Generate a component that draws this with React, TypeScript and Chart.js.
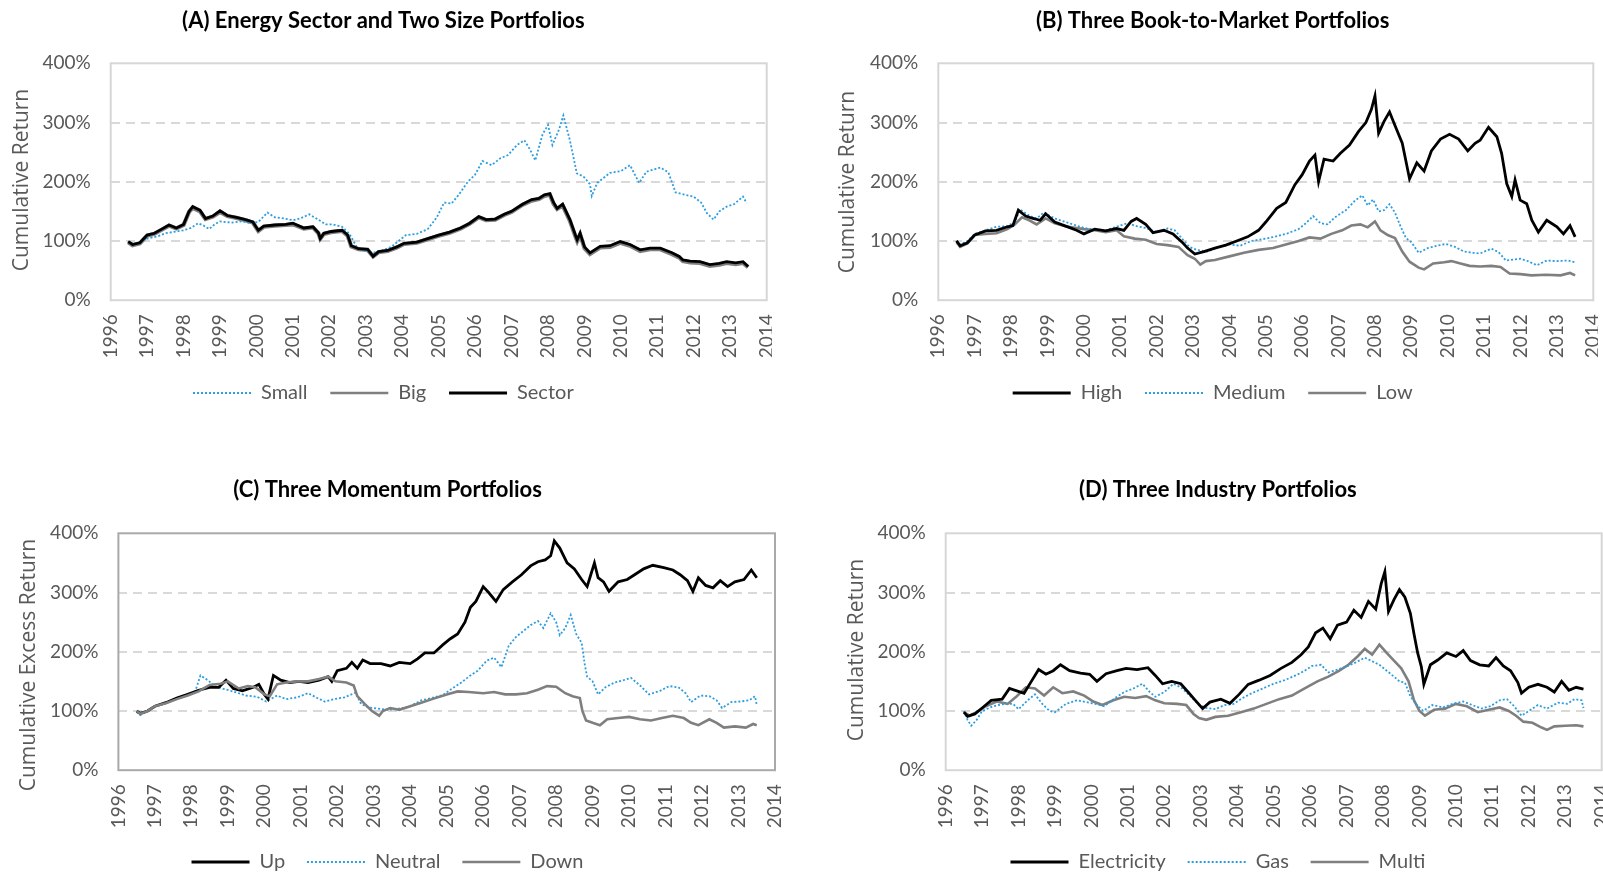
import React, { useEffect, useRef } from 'react';
import { Chart, registerables } from 'chart.js';

Chart.register(...registerables);

type Pt = [number, number];

// ---------- axis values ----------
const YEAR_MIN = 1996;
const YEAR_MAX = 2014;
const PCT_MIN = 0;
const PCT_MAX = 400;
const PCT_STEP = 100;

// ---------- (A) Energy Sector and Two Size Portfolios ----------
const A_SMALL: Pt[] = [
  [1996.48, 99], [1996.6, 95], [1996.8, 98], [1997.0, 104], [1997.3, 108], [1997.5, 113], [1997.8, 116],
  [1998.0, 118], [1998.2, 122], [1998.4, 130], [1998.55, 126], [1998.7, 120], [1998.85, 128], [1999.0, 133],
  [1999.3, 131], [1999.6, 133], [1999.85, 130], [2000.05, 132], [2000.3, 148], [2000.5, 140], [2000.75, 138],
  [2001.0, 135], [2001.2, 138], [2001.45, 145], [2001.7, 136], [2001.9, 128], [2002.1, 128], [2002.35, 124],
  [2002.55, 112], [2002.75, 90], [2002.95, 84], [2003.2, 80], [2003.45, 84], [2003.7, 90], [2003.9, 100],
  [2004.1, 110], [2004.4, 112], [2004.7, 120], [2004.95, 140], [2005.15, 165], [2005.35, 163], [2005.55, 178],
  [2005.8, 200], [2006.0, 212], [2006.2, 235], [2006.45, 228], [2006.7, 240], [2006.9, 245], [2007.15, 262],
  [2007.35, 270], [2007.5, 255], [2007.65, 236], [2007.85, 280], [2008.0, 296], [2008.12, 262], [2008.3, 288],
  [2008.42, 312], [2008.6, 270], [2008.79, 214], [2008.97, 209], [2009.15, 196], [2009.2, 176], [2009.35, 198],
  [2009.7, 215], [2010.0, 218], [2010.25, 228], [2010.5, 198], [2010.7, 217], [2011.08, 224], [2011.3, 216],
  [2011.5, 182], [2011.75, 178], [2011.99, 175], [2012.2, 165], [2012.36, 147], [2012.54, 136], [2012.7, 150],
  [2012.9, 158], [2013.1, 162], [2013.35, 175], [2013.45, 164],
];
const A_BIG: Pt[] = [
  [1996.48, 98], [1996.6, 93], [1996.8, 96], [1997.0, 109], [1997.2, 112], [1997.4, 119], [1997.6, 126],
  [1997.8, 121], [1998.0, 127], [1998.15, 149], [1998.25, 156], [1998.45, 150], [1998.6, 137], [1998.8, 141],
  [1999.0, 149], [1999.2, 142], [1999.45, 139], [1999.7, 135], [1999.9, 131], [2000.05, 117], [2000.2, 124],
  [2000.5, 126], [2000.8, 127], [2001.0, 128], [2001.3, 121], [2001.55, 123], [2001.7, 113], [2001.75, 104],
  [2001.85, 112], [2002.05, 115], [2002.35, 117], [2002.5, 109], [2002.6, 91], [2002.8, 86], [2003.05, 85],
  [2003.2, 74], [2003.35, 81], [2003.6, 83], [2003.85, 89], [2004.05, 95], [2004.4, 97], [2004.7, 103],
  [2005.0, 109], [2005.3, 114], [2005.6, 121], [2005.85, 129], [2006.1, 140], [2006.3, 135], [2006.55, 136],
  [2006.8, 144], [2007.0, 149], [2007.3, 161], [2007.55, 168], [2007.75, 171], [2007.9, 176], [2008.05, 178],
  [2008.15, 163], [2008.25, 154], [2008.4, 160], [2008.6, 134], [2008.75, 108], [2008.8, 100], [2008.88, 111],
  [2009.0, 88], [2009.15, 78], [2009.43, 89], [2009.7, 90], [2009.98, 97], [2010.25, 92], [2010.53, 83],
  [2010.8, 86], [2011.08, 86], [2011.4, 78], [2011.6, 72], [2011.7, 66], [2011.9, 64], [2012.17, 63],
  [2012.44, 58], [2012.7, 60], [2012.9, 63], [2013.15, 61], [2013.35, 63], [2013.49, 56],
];
const A_SECTOR: Pt[] = [
  [1996.48, 99], [1996.6, 94], [1996.8, 97], [1997.0, 110], [1997.2, 113], [1997.4, 120], [1997.6, 127],
  [1997.8, 122], [1998.0, 128], [1998.15, 150], [1998.25, 158], [1998.45, 152], [1998.6, 138], [1998.8, 142],
  [1999.0, 151], [1999.2, 143], [1999.45, 140], [1999.7, 136], [1999.9, 132], [2000.05, 118], [2000.2, 125],
  [2000.5, 127], [2000.8, 128], [2001.0, 130], [2001.3, 122], [2001.55, 124], [2001.7, 114], [2001.75, 104],
  [2001.85, 113], [2002.05, 116], [2002.35, 118], [2002.5, 110], [2002.6, 92], [2002.8, 87], [2003.05, 86],
  [2003.2, 74], [2003.35, 82], [2003.6, 84], [2003.85, 90], [2004.05, 96], [2004.4, 98], [2004.7, 104],
  [2005.0, 110], [2005.3, 115], [2005.6, 122], [2005.85, 130], [2006.1, 141], [2006.3, 136], [2006.55, 137],
  [2006.8, 145], [2007.0, 150], [2007.3, 162], [2007.55, 170], [2007.75, 172], [2007.9, 178], [2008.05, 180],
  [2008.15, 165], [2008.25, 155], [2008.4, 162], [2008.6, 136], [2008.75, 110], [2008.8, 102], [2008.88, 113],
  [2009.0, 90], [2009.15, 80], [2009.43, 91], [2009.7, 92], [2009.98, 99], [2010.25, 94], [2010.53, 85],
  [2010.8, 88], [2011.08, 88], [2011.4, 80], [2011.6, 74], [2011.7, 68], [2011.9, 66], [2012.17, 65],
  [2012.44, 60], [2012.7, 62], [2012.9, 65], [2013.15, 63], [2013.35, 65], [2013.49, 57],
];

// ---------- (B) Three Book-to-Market Portfolios ----------
const B_HIGH: Pt[] = [
  [1996.5, 100], [1996.6, 92], [1996.8, 97], [1997.0, 110], [1997.3, 117], [1997.6, 118], [1997.9, 124],
  [1998.05, 126], [1998.2, 152], [1998.4, 142], [1998.6, 138], [1998.8, 135], [1998.95, 146], [1999.2, 132],
  [1999.5, 125], [1999.8, 118], [2000.0, 112], [2000.3, 120], [2000.6, 117], [2000.9, 121], [2001.1, 118],
  [2001.3, 133], [2001.45, 138], [2001.7, 128], [2001.9, 114], [2002.2, 118], [2002.45, 112], [2002.7, 98],
  [2002.85, 88], [2003.05, 78], [2003.3, 82], [2003.6, 88], [2003.9, 93], [2004.2, 100], [2004.5, 107],
  [2004.8, 118], [2005.0, 132], [2005.3, 155], [2005.55, 165], [2005.8, 195], [2006.0, 212], [2006.2, 235],
  [2006.35, 245], [2006.45, 200], [2006.6, 238], [2006.85, 235], [2007.05, 248], [2007.3, 262], [2007.55, 285],
  [2007.75, 300], [2007.9, 322], [2008.0, 345], [2008.1, 282], [2008.25, 302], [2008.4, 318], [2008.55, 295],
  [2008.75, 265], [2008.95, 205], [2009.15, 232], [2009.35, 218], [2009.55, 252], [2009.8, 272], [2010.05, 280],
  [2010.3, 272], [2010.55, 252], [2010.75, 265], [2010.89, 270], [2011.12, 292], [2011.35, 276], [2011.48, 248],
  [2011.62, 197], [2011.76, 175], [2011.85, 203], [2011.99, 169], [2012.17, 163], [2012.31, 135], [2012.49, 115],
  [2012.72, 135], [2013.0, 124], [2013.18, 112], [2013.36, 126], [2013.5, 107],
];
const B_MEDIUM: Pt[] = [
  [1996.5, 100], [1996.6, 94], [1996.8, 100], [1997.0, 112], [1997.3, 118], [1997.6, 124], [1997.9, 125],
  [1998.1, 132], [1998.25, 153], [1998.5, 143], [1998.7, 138], [1998.9, 148], [1999.2, 138], [1999.5, 132],
  [1999.8, 126], [2000.0, 122], [2000.3, 119], [2000.6, 118], [2000.9, 124], [2001.2, 130], [2001.45, 125],
  [2001.7, 122], [2002.0, 115], [2002.3, 121], [2002.5, 118], [2002.7, 104], [2002.9, 90], [2003.1, 85],
  [2003.4, 82], [2003.7, 90], [2004.0, 94], [2004.3, 92], [2004.6, 100], [2005.0, 104], [2005.3, 108],
  [2005.6, 113], [2005.9, 120], [2006.1, 130], [2006.3, 142], [2006.5, 130], [2006.7, 128], [2006.9, 140],
  [2007.2, 152], [2007.45, 168], [2007.65, 177], [2007.8, 160], [2007.95, 170], [2008.1, 150], [2008.25, 152],
  [2008.4, 162], [2008.55, 148], [2008.7, 125], [2008.85, 105], [2009.0, 98], [2009.2, 80], [2009.45, 88],
  [2009.7, 92], [2009.95, 95], [2010.2, 90], [2010.45, 82], [2010.7, 80], [2010.89, 79], [2011.2, 87],
  [2011.4, 81], [2011.6, 67], [2011.99, 70], [2012.2, 66], [2012.45, 59], [2012.72, 67], [2013.0, 66],
  [2013.3, 67], [2013.5, 64],
];
const B_LOW: Pt[] = [
  [1996.5, 98], [1996.6, 90], [1996.8, 96], [1997.0, 110], [1997.3, 112], [1997.6, 113], [1997.9, 120],
  [1998.1, 128], [1998.3, 140], [1998.5, 135], [1998.7, 128], [1998.95, 138], [1999.2, 130], [1999.5, 125],
  [1999.8, 122], [2000.0, 120], [2000.3, 118], [2000.6, 115], [2000.9, 118], [2001.1, 108], [2001.4, 104],
  [2001.7, 102], [2002.0, 95], [2002.3, 93], [2002.6, 90], [2002.85, 76], [2003.05, 70], [2003.2, 60],
  [2003.35, 66], [2003.6, 68], [2004.0, 74], [2004.4, 80], [2004.8, 85], [2005.2, 88], [2005.6, 95],
  [2005.9, 100], [2006.2, 106], [2006.5, 104], [2006.8, 112], [2007.1, 118], [2007.35, 126], [2007.6, 128],
  [2007.8, 123], [2008.0, 133], [2008.15, 118], [2008.35, 110], [2008.55, 105], [2008.75, 82], [2008.95, 65],
  [2009.2, 55], [2009.35, 52], [2009.6, 62], [2009.9, 64], [2010.1, 66], [2010.35, 62], [2010.6, 58],
  [2010.89, 57], [2011.2, 58], [2011.45, 56], [2011.7, 45], [2012.0, 44], [2012.3, 42], [2012.7, 43],
  [2013.1, 42], [2013.36, 46], [2013.5, 42],
];

// ---------- (C) Three Momentum Portfolios ----------
const C_UP: Pt[] = [
  [1996.5, 100], [1996.6, 96], [1996.8, 100], [1997.0, 108], [1997.3, 114], [1997.6, 122], [1997.9, 128],
  [1998.2, 135], [1998.5, 140], [1998.75, 140], [1998.95, 152], [1999.15, 138], [1999.4, 134], [1999.7, 140],
  [1999.85, 145], [2000.0, 128], [2000.1, 120], [2000.25, 160], [2000.45, 152], [2000.7, 148], [2000.95, 150],
  [2001.2, 148], [2001.5, 152], [2001.75, 158], [2001.85, 150], [2002.0, 168], [2002.25, 172], [2002.4, 182],
  [2002.55, 172], [2002.7, 186], [2002.9, 180], [2003.2, 180], [2003.45, 176], [2003.7, 182], [2004.0, 180],
  [2004.2, 188], [2004.4, 198], [2004.65, 198], [2004.9, 212], [2005.1, 222], [2005.3, 230], [2005.5, 250],
  [2005.65, 275], [2005.8, 285], [2006.0, 310], [2006.15, 300], [2006.35, 285], [2006.55, 305], [2006.8, 318],
  [2007.05, 330], [2007.3, 345], [2007.5, 352], [2007.7, 355], [2007.85, 362], [2007.95, 387], [2008.1, 375],
  [2008.3, 350], [2008.5, 340], [2008.7, 322], [2008.85, 310], [2008.95, 330], [2009.05, 350], [2009.15, 325],
  [2009.3, 318], [2009.45, 302], [2009.7, 318], [2009.95, 322], [2010.15, 330], [2010.4, 340], [2010.65, 346],
  [2010.95, 342], [2011.2, 338], [2011.4, 330], [2011.6, 320], [2011.75, 302], [2011.9, 325], [2012.1, 312],
  [2012.3, 308], [2012.5, 320], [2012.7, 310], [2012.9, 318], [2013.15, 322], [2013.35, 338], [2013.5, 325],
];
const C_NEUTRAL: Pt[] = [
  [1996.5, 98], [1996.6, 93], [1996.8, 100], [1997.0, 108], [1997.3, 114], [1997.6, 120], [1997.9, 128],
  [1998.1, 132], [1998.25, 160], [1998.45, 152], [1998.65, 142], [1998.9, 137], [1999.2, 132], [1999.5, 126],
  [1999.8, 124], [2000.05, 116], [2000.35, 126], [2000.6, 120], [2000.9, 123], [2001.2, 130], [2001.45, 122],
  [2001.65, 116], [2001.9, 120], [2002.2, 123], [2002.5, 131], [2002.65, 112], [2002.85, 106], [2003.1, 104],
  [2003.4, 102], [2003.7, 104], [2004.0, 108], [2004.3, 118], [2004.6, 122], [2004.9, 127], [2005.15, 138],
  [2005.4, 148], [2005.65, 160], [2005.85, 168], [2006.1, 185], [2006.3, 190], [2006.5, 174], [2006.7, 210],
  [2006.9, 225], [2007.1, 235], [2007.3, 245], [2007.5, 252], [2007.65, 240], [2007.85, 265], [2008.0, 250],
  [2008.1, 228], [2008.25, 240], [2008.4, 262], [2008.55, 230], [2008.7, 215], [2008.78, 180], [2008.85, 158],
  [2009.0, 150], [2009.15, 128], [2009.35, 140], [2009.6, 148], [2009.85, 152], [2010.05, 156], [2010.3, 143],
  [2010.55, 128], [2010.85, 134], [2011.1, 142], [2011.35, 140], [2011.55, 130], [2011.7, 115], [2011.95, 126],
  [2012.2, 125], [2012.4, 118], [2012.55, 105], [2012.8, 115], [2013.05, 116], [2013.3, 118], [2013.45, 125],
  [2013.5, 110],
];
const C_DOWN: Pt[] = [
  [1996.5, 100], [1996.6, 95], [1996.8, 100], [1997.0, 108], [1997.3, 113], [1997.6, 120], [1997.9, 126],
  [1998.2, 133], [1998.5, 144], [1998.8, 146], [1999.0, 150], [1999.3, 138], [1999.55, 142], [1999.75, 140],
  [2000.0, 128], [2000.15, 125], [2000.35, 145], [2000.6, 148], [2000.9, 150], [2001.2, 150], [2001.5, 154],
  [2001.75, 158], [2001.95, 150], [2002.25, 148], [2002.45, 143], [2002.55, 125], [2002.75, 112], [2002.95, 100],
  [2003.15, 92], [2003.25, 100], [2003.45, 105], [2003.7, 102], [2004.0, 108], [2004.3, 114], [2004.6, 120],
  [2005.0, 128], [2005.3, 133], [2005.6, 132], [2006.0, 130], [2006.3, 132], [2006.6, 128], [2006.9, 128],
  [2007.2, 130], [2007.5, 136], [2007.75, 142], [2008.0, 141], [2008.25, 130], [2008.45, 125], [2008.65, 122],
  [2008.72, 100], [2008.82, 84], [2009.0, 80], [2009.2, 76], [2009.4, 86], [2009.7, 88], [2010.0, 90],
  [2010.3, 86], [2010.6, 84], [2010.9, 88], [2011.2, 92], [2011.5, 88], [2011.7, 80], [2011.9, 76],
  [2012.2, 86], [2012.4, 80], [2012.6, 72], [2012.9, 74], [2013.2, 72], [2013.4, 78], [2013.5, 76],
];

// ---------- (D) Three Industry Portfolios ----------
const D_ELECTRICITY: Pt[] = [
  [1996.5, 98], [1996.6, 91], [1996.8, 95], [1997.0, 105], [1997.25, 118], [1997.55, 120], [1997.75, 138],
  [1997.95, 134], [1998.15, 130], [1998.35, 150], [1998.55, 170], [1998.75, 162], [1998.95, 168], [1999.15, 178],
  [1999.4, 168], [1999.7, 164], [1999.95, 162], [2000.15, 150], [2000.4, 163], [2000.7, 168], [2000.95, 172],
  [2001.25, 170], [2001.55, 173], [2001.75, 160], [2001.95, 146], [2002.2, 150], [2002.45, 146], [2002.65, 132],
  [2002.85, 118], [2003.05, 104], [2003.25, 115], [2003.55, 120], [2003.8, 113], [2004.05, 128], [2004.3, 145],
  [2004.6, 152], [2004.9, 160], [2005.2, 172], [2005.5, 182], [2005.75, 195], [2005.95, 208], [2006.15, 232],
  [2006.35, 240], [2006.55, 222], [2006.75, 245], [2007.0, 250], [2007.2, 270], [2007.4, 258], [2007.6, 285],
  [2007.8, 272], [2007.95, 315], [2008.05, 335], [2008.15, 268], [2008.3, 288], [2008.45, 305], [2008.6, 292],
  [2008.75, 265], [2008.85, 230], [2008.95, 198], [2009.05, 175], [2009.12, 145], [2009.3, 178], [2009.5, 186],
  [2009.75, 198], [2010.0, 192], [2010.2, 202], [2010.4, 185], [2010.65, 178], [2010.9, 176], [2011.1, 190],
  [2011.3, 176], [2011.5, 168], [2011.7, 148], [2011.8, 130], [2012.0, 140], [2012.25, 145], [2012.5, 140],
  [2012.7, 132], [2012.9, 150], [2013.1, 135], [2013.3, 140], [2013.5, 137],
];
const D_GAS: Pt[] = [
  [1996.5, 100], [1996.6, 85], [1996.7, 75], [1996.85, 85], [1997.0, 100], [1997.3, 108], [1997.6, 112],
  [1997.85, 112], [1998.0, 103], [1998.25, 118], [1998.45, 128], [1998.65, 112], [1998.85, 100], [1999.0, 98],
  [1999.3, 112], [1999.6, 118], [1999.85, 115], [2000.1, 112], [2000.35, 108], [2000.65, 122], [2000.9, 132],
  [2001.15, 138], [2001.4, 146], [2001.6, 132], [2001.75, 124], [2002.0, 132], [2002.25, 146], [2002.45, 140],
  [2002.7, 126], [2002.95, 110], [2003.15, 105], [2003.4, 103], [2003.65, 110], [2003.9, 112], [2004.15, 122],
  [2004.4, 130], [2004.7, 138], [2005.0, 146], [2005.3, 152], [2005.6, 160], [2005.85, 168], [2006.05, 176],
  [2006.3, 178], [2006.5, 165], [2006.75, 170], [2007.0, 175], [2007.25, 182], [2007.5, 190], [2007.7, 184],
  [2007.9, 178], [2008.1, 168], [2008.3, 158], [2008.45, 150], [2008.6, 148], [2008.75, 125], [2008.9, 112],
  [2009.1, 100], [2009.35, 110], [2009.65, 106], [2009.9, 112], [2010.2, 116], [2010.45, 110], [2010.7, 104],
  [2010.95, 108], [2011.2, 118], [2011.4, 120], [2011.6, 108], [2011.8, 92], [2012.0, 100], [2012.25, 110],
  [2012.5, 104], [2012.8, 114], [2013.05, 112], [2013.25, 120], [2013.45, 118], [2013.5, 105],
];
const D_MULTI: Pt[] = [
  [1996.5, 98], [1996.65, 92], [1996.85, 98], [1997.1, 108], [1997.4, 116], [1997.7, 112], [1997.95, 125],
  [1998.2, 140], [1998.45, 138], [1998.7, 126], [1998.95, 140], [1999.2, 130], [1999.5, 133], [1999.8, 126],
  [2000.05, 116], [2000.3, 110], [2000.6, 118], [2000.9, 124], [2001.2, 122], [2001.5, 125], [2001.75, 118],
  [2002.0, 113], [2002.35, 112], [2002.6, 110], [2002.8, 95], [2002.95, 88], [2003.15, 85], [2003.4, 90],
  [2003.75, 92], [2004.1, 98], [2004.45, 104], [2004.8, 112], [2005.15, 120], [2005.5, 126], [2005.85, 138],
  [2006.2, 150], [2006.5, 158], [2006.8, 168], [2007.05, 178], [2007.3, 192], [2007.5, 205], [2007.7, 195],
  [2007.9, 212], [2008.1, 198], [2008.3, 185], [2008.5, 172], [2008.7, 150], [2008.85, 118], [2009.0, 100],
  [2009.15, 92], [2009.4, 102], [2009.7, 104], [2010.0, 112], [2010.3, 108], [2010.6, 98], [2010.9, 102],
  [2011.2, 106], [2011.45, 100], [2011.65, 92], [2011.85, 82], [2012.1, 80], [2012.35, 72], [2012.5, 68],
  [2012.7, 74], [2013.0, 75], [2013.3, 76], [2013.5, 74],
];

// ---------- styles ----------
const LABEL_FONT = 'Lato, "Noto Sans", sans-serif';
const TEXT_GRAY = '#595959';
const BLACK = { color: '#000000', width: 2.8, dash: [] as number[], legendWidth: 3 };
const GRAY = { color: '#7f7f7f', width: 2.6, dash: [] as number[], legendWidth: 2.5 };
const GRAY_HALO = { color: '#7f7f7f', width: 4.2, dash: [] as number[], legendWidth: 2.5 };
const BLUE = { color: '#2b9de0', width: 1.8, dash: [2, 2], legendWidth: 2 };

type Series = { label: string; points: Pt[]; style: typeof BLACK; order: number };
type PanelCfg = {
  left: number; top: number; width: number; height: number;
  title: string; titlePadTop: number; titlePadBottom: number;
  yTitle: string; yTitleX: number; yTitleY: number;
  yAxisWidth: number; padRight: number; xAxisHeight: number; legendPad: number;
  frameColor: string; series: Series[];
};

const PANELS: PanelCfg[] = [
  {
    left: 0, top: 0, width: 772, height: 413,
    title: '(A) Energy Sector and Two Size Portfolios', titlePadTop: 7.3, titlePadBottom: 29.6,
    yTitle: 'Cumulative Return', yTitleX: 21.7, yTitleY: 180,
    yAxisWidth: 110.7, padRight: 5.3, xAxisHeight: 60, legendPad: 22.8, frameColor: '#d6d6d6',
    series: [
      { label: 'Small', points: A_SMALL, style: BLUE, order: 1 },
      { label: 'Big', points: A_BIG, style: GRAY_HALO, order: 2 },
      { label: 'Sector', points: A_SECTOR, style: BLACK, order: 0 },
    ],
  },
  {
    left: 832, top: 0, width: 766, height: 413,
    title: '(B) Three Book-to-Market Portfolios', titlePadTop: 7.3, titlePadBottom: 29.6,
    yTitle: 'Cumulative Return', yTitleX: 16.5, yTitleY: 182,
    yAxisWidth: 106.3, padRight: 4.7, xAxisHeight: 60, legendPad: 22.8, frameColor: '#d6d6d6',
    series: [
      { label: 'High', points: B_HIGH, style: BLACK, order: 0 },
      { label: 'Medium', points: B_MEDIUM, style: BLUE, order: 1 },
      { label: 'Low', points: B_LOW, style: GRAY, order: 2 },
    ],
  },
  {
    left: 0, top: 440, width: 788, height: 442,
    title: '(C) Three Momentum Portfolios', titlePadTop: 36.5, titlePadBottom: 30.4,
    yTitle: 'Cumulative Excess Return', yTitleX: 29.3, yTitleY: 225,
    yAxisWidth: 118.4, padRight: 13, xAxisHeight: 60, legendPad: 21.8, frameColor: '#a9a9a9',
    series: [
      { label: 'Up', points: C_UP, style: BLACK, order: 1 },
      { label: 'Neutral', points: C_NEUTRAL, style: BLUE, order: 2 },
      { label: 'Down', points: C_DOWN, style: GRAY, order: 0 },
    ],
  },
  {
    left: 834, top: 440, width: 772, height: 442,
    title: '(D) Three Industry Portfolios', titlePadTop: 36.5, titlePadBottom: 30.4,
    yTitle: 'Cumulative Return', yTitleX: 23.3, yTitleY: 210,
    yAxisWidth: 111.7, padRight: 4.3, xAxisHeight: 60, legendPad: 21.8, frameColor: '#d6d6d6',
    series: [
      { label: 'Electricity', points: D_ELECTRICITY, style: BLACK, order: 0 },
      { label: 'Gas', points: D_GAS, style: BLUE, order: 1 },
      { label: 'Multi', points: D_MULTI, style: GRAY, order: 2 },
    ],
  },
];

const panelDecor = {
  id: 'panelDecor',
  beforeDatasetsDraw(chart: any, _args: any, opts: any) {
    const { ctx, chartArea: a } = chart;
    ctx.save();
    ctx.strokeStyle = opts.frameColor;
    ctx.lineWidth = 2;
    ctx.setLineDash([]);
    ctx.strokeRect(a.left, a.top, a.right - a.left, a.bottom - a.top);
    ctx.restore();
  },
  afterDraw(chart: any, _args: any, opts: any) {
    const ctx = chart.ctx;
    ctx.save();
    ctx.translate(opts.x, opts.y);
    ctx.rotate(-Math.PI / 2);
    ctx.font = '21px "Open Sans", "DejaVu Sans", sans-serif';
    ctx.fillStyle = TEXT_GRAY;
    ctx.textAlign = 'center';
    ctx.textBaseline = 'middle';
    ctx.fillText(opts.text, 0, 0);
    ctx.restore();
  },
};

function Panel({ cfg }: { cfg: PanelCfg }) {
  const ref = useRef<HTMLCanvasElement>(null);
  useEffect(() => {
    const chart = new Chart(ref.current as HTMLCanvasElement, {
      type: 'line',
      data: {
        datasets: cfg.series.map((s) => ({
          label: s.label,
          data: s.points.map(([x, y]) => ({ x, y })),
          borderColor: s.style.color,
          backgroundColor: s.style.color,
          borderWidth: s.style.width,
          borderDash: s.style.dash,
          legendWidth: s.style.legendWidth,
          legendDash: s.style.dash,
          pointRadius: 0,
          pointHoverRadius: 0,
          tension: 0,
          fill: false,
          order: s.order,
        })) as any,
      },
      options: {
        animation: false,
        responsive: false,
        devicePixelRatio: 1,
        events: [],
        layout: { padding: { left: 0, right: cfg.padRight, top: 0, bottom: 0 } },
        scales: {
          x: {
            type: 'linear',
            min: YEAR_MIN,
            max: YEAR_MAX,
            grid: { display: false, drawTicks: false },
            border: { display: false },
            ticks: {
              stepSize: 1,
              autoSkip: false,
              minRotation: 90,
              maxRotation: 90,
              padding: 14,
              color: TEXT_GRAY,
              font: { family: LABEL_FONT, size: 19 },
              callback: (v: any) => String(v),
            },
            afterFit: (scale: any) => {
              scale.height = cfg.xAxisHeight;
              scale.paddingLeft = 0;
              scale.paddingRight = 0;
            },
          },
          y: {
            type: 'linear',
            min: PCT_MIN,
            max: PCT_MAX,
            grid: {
              drawTicks: false,
              lineWidth: 2,
              color: (c: any) =>
                c.tick && (c.tick.value === PCT_MIN || c.tick.value === PCT_MAX) ? 'rgba(0,0,0,0)' : '#d9d9d9',
            },
            border: { display: false, dash: [9, 6] },
            ticks: {
              stepSize: PCT_STEP,
              padding: 20,
              color: TEXT_GRAY,
              font: { family: LABEL_FONT, size: 19 },
              callback: (v: any) => v + '%',
            },
            afterFit: (scale: any) => {
              scale.width = cfg.yAxisWidth;
              scale.paddingTop = 0;
              scale.paddingBottom = 0;
            },
          },
        },
        plugins: {
          tooltip: { enabled: false },
          title: {
            display: true,
            text: cfg.title,
            color: '#000000',
            font: { family: LABEL_FONT, size: 22, weight: 'bold' },
            padding: { top: cfg.titlePadTop, bottom: cfg.titlePadBottom },
          },
          legend: {
            display: true,
            position: 'bottom',
            labels: {
              usePointStyle: true,
              pointStyle: 'line',
              pointStyleWidth: 58,
              padding: cfg.legendPad,
              color: TEXT_GRAY,
              font: { family: LABEL_FONT, size: 20 },
              generateLabels: (ch: any) => {
                const items = (Chart.defaults.plugins.legend.labels.generateLabels as any)(ch);
                items.sort((a: any, b: any) => a.datasetIndex - b.datasetIndex);
                items.forEach((it: any) => {
                  const ds: any = ch.data.datasets[it.datasetIndex];
                  it.lineWidth = ds.legendWidth;
                  it.lineDash = ds.legendDash;
                  it.strokeStyle = ds.borderColor;
                  it.pointStyle = 'line';
                });
                return items;
              },
            },
          },
          panelDecor: { frameColor: cfg.frameColor, text: cfg.yTitle, x: cfg.yTitleX, y: cfg.yTitleY },
        } as any,
      },
      plugins: [panelDecor as any],
    });
    return () => chart.destroy();
  }, [cfg]);
  return (
    <canvas
      ref={ref}
      width={cfg.width}
      height={cfg.height}
      style={{ position: 'absolute', left: cfg.left, top: cfg.top, width: cfg.width, height: cfg.height }}
    />
  );
}

export default function App() {
  return (
    <div
      style={{
        position: 'absolute', left: 0, top: 0, width: 1603, height: 874,
        overflow: 'hidden', background: '#ffffff',
      }}
    >
      {PANELS.map((p, i) => (
        <Panel key={i} cfg={p} />
      ))}
    </div>
  );
}
